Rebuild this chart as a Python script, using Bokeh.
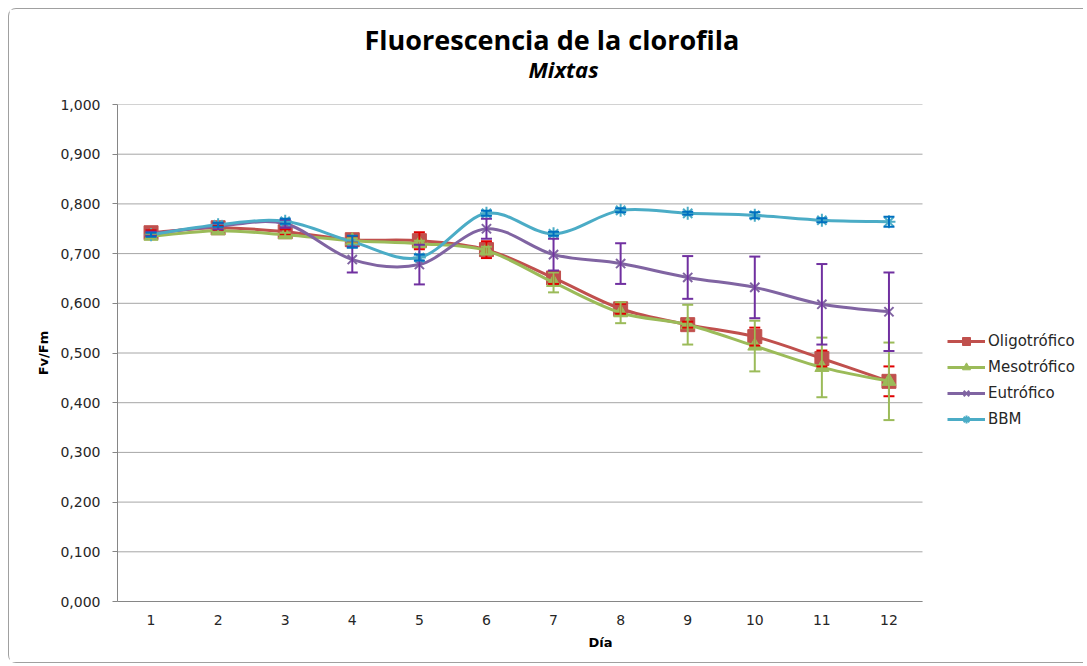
from bokeh.plotting import figure
from bokeh.models import (ColumnDataSource, Range1d, FixedTicker, CustomJSTickFormatter,
                          Whisker, TeeHead, Legend, LegendItem, Title)
from bokeh.embed import file_html
from bokeh.resources import INLINE

days = [1, 2, 3, 4, 5, 6, 7, 8, 9, 10, 11, 12]
series_names = ["Oligotrófico", "Mesotrófico", "Eutrófico", "BBM"]
oligo = [0.742, 0.752, 0.744, 0.728, 0.726, 0.708, 0.651, 0.589, 0.557, 0.533, 0.489, 0.443]
meso = [0.735, 0.746, 0.738, 0.726, 0.720, 0.706, 0.642, 0.581, 0.557, 0.514, 0.471, 0.443]
eut = [0.740, 0.755, 0.760, 0.688, 0.678, 0.750, 0.698, 0.680, 0.652, 0.632, 0.598, 0.583]
bbm = [0.738, 0.758, 0.765, 0.724, 0.692, 0.781, 0.740, 0.787, 0.781, 0.777, 0.767, 0.764]
oligo_err = [0.005, 0.004, 0.005, 0.006, 0.017, 0.017, 0.012, 0.010, 0.006, 0.018, 0.016, 0.030]
meso_err = [0.004, 0.004, 0.004, 0.005, 0.006, 0.008, 0.020, 0.021, 0.040, 0.051, 0.060, 0.078]
eut_err = [0.004, 0.006, 0.008, 0.026, 0.040, 0.020, 0.032, 0.041, 0.043, 0.062, 0.081, 0.079]
bbm_err = [0.004, 0.004, 0.005, 0.012, 0.006, 0.005, 0.004, 0.004, 0.003, 0.006, 0.004, 0.010]
y_ticks = [0.0, 0.1, 0.2, 0.3, 0.4, 0.5, 0.6, 0.7, 0.8, 0.9, 1.0]

values = [oligo, meso, eut, bbm]
errors = [oligo_err, meso_err, eut_err, bbm_err]
line_colors = ["#C0504D", "#9BBB59", "#8064A2", "#4BACC6"]
err_colors = ["#E00000", "#9BBB59", "#7030A0", "#0070C0"]
markers = ["square", "triangle", "x", "asterisk"]
msizes = [14, 14, 13, 13]

# layout: the category area is 805 px wide, the frame continues to the right for the legend
CAT_W = 805
FRAME_W = 966
x_lo = days[0] - 0.5
x_hi = x_lo + len(days) * FRAME_W / CAT_W

p = figure(frame_width=FRAME_W, frame_height=497, output_backend="svg", toolbar_location=None,
           x_range=Range1d(x_lo, x_hi), y_range=Range1d(0, 1.0),
           min_border_left=108, min_border_right=0, min_border_top=95, min_border_bottom=61)
p.styles = {"margin-left": "8px", "margin-top": "8px",
            "border-left": "1px solid #a0a0a0", "border-top": "1px solid #a0a0a0",
            "border-bottom": "1px solid #a0a0a0",
            "border-top-left-radius": "8px", "border-bottom-left-radius": "8px"}
p.outline_line_color = None

p.title.text = "Fluorescencia de la clorofila"
p.title.align = "left"
p.title.text_font = "Open Sans"
p.title.text_font_style = "bold"
p.title.text_font_size = "27px"
p.title.text_color = "#000000"
p.title.offset = 247
p.title.standoff = -54
p.add_layout(Title(text="Mixtas", align="left", offset=411, standoff=42,
                   text_font="Open Sans", text_font_style="bold italic",
                   text_font_size="22px", text_color="#000000"), "above")

# axes
p.xaxis.ticker = FixedTicker(ticks=days)
p.xaxis.bounds = (x_lo, days[-1] + 0.5)
p.yaxis.ticker = FixedTicker(ticks=y_ticks)
p.yaxis.formatter = CustomJSTickFormatter(code="return tick.toFixed(3).replace('.', ',');")
for ax in (p.xaxis, p.yaxis):
    ax.axis_line_color = "#868686"
    ax.major_tick_line_color = "#868686"
    ax.minor_tick_line_color = None
    ax.major_label_text_font = "DejaVu Sans"
    ax.major_label_text_font_size = "14px"
    ax.major_label_text_color = "#262626"
    ax.axis_label_text_font = "DejaVu Sans"
    ax.axis_label_text_font_style = "bold"
    ax.axis_label_text_font_size = "13px"
    ax.axis_label_text_color = "#000000"
p.xaxis.axis_label = "Día"
p.yaxis.axis_label = "Fv/Fm"
p.xaxis.major_tick_in = 0
p.xaxis.major_tick_out = 0
p.yaxis.major_tick_in = 0
p.yaxis.major_tick_out = 5
p.yaxis.major_label_standoff = 12
p.xaxis.major_label_standoff = 13
p.yaxis.axis_label_standoff = 6
p.xaxis.axis_label_standoff = 7
p.xgrid.grid_line_color = None
p.ygrid.grid_line_color = None

# horizontal gridlines limited to the category area
p.segment(x0=[x_lo] * len(y_ticks), x1=[days[-1] + 0.5] * len(y_ticks),
          y0=y_ticks, y1=y_ticks, line_color="#a6a6a6", line_width=1, level="underlay")


def smooth_segments(xs, ys):
    n = len(xs)
    d = dict(x0=[], y0=[], x1=[], y1=[], cx0=[], cy0=[], cx1=[], cy1=[])
    for i in range(n - 1):
        im = max(i - 1, 0)
        ip2 = min(i + 2, n - 1)
        d["x0"].append(xs[i]); d["y0"].append(ys[i])
        d["x1"].append(xs[i + 1]); d["y1"].append(ys[i + 1])
        d["cx0"].append(xs[i] + (xs[i + 1] - xs[im]) / 6)
        d["cy0"].append(ys[i] + (ys[i + 1] - ys[im]) / 6)
        d["cx1"].append(xs[i + 1] - (xs[ip2] - xs[i]) / 6)
        d["cy1"].append(ys[i + 1] - (ys[ip2] - ys[i]) / 6)
    return ColumnDataSource(d)


items = []
for name, vals, errs, lc, ec, mk, ms in zip(series_names, values, errors, line_colors,
                                            err_colors, markers, msizes):
    p.bezier(x0="x0", y0="y0", x1="x1", y1="y1", cx0="cx0", cy0="cy0", cx1="cx1", cy1="cy1",
             source=smooth_segments(days, vals), line_color=lc, line_width=3)
    src = ColumnDataSource(dict(x=days, y=vals,
                                lo=[v - e for v, e in zip(vals, errs)],
                                hi=[v + e for v, e in zip(vals, errs)]))
    w = Whisker(source=src, base="x", lower="lo", upper="hi", dimension="height",
                line_color=ec, line_width=2, level="glyph",
                upper_head=TeeHead(size=11, line_color=ec, line_width=2),
                lower_head=TeeHead(size=11, line_color=ec, line_width=2))
    p.add_layout(w)
    leg_line = p.line(x=[float("nan")], y=[float("nan")], line_color=lc, line_width=3)
    if mk in ("x", "asterisk"):
        sc = p.scatter(x="x", y="y", source=src, marker=mk, size=ms, line_color=lc,
                       line_width=2)
    else:
        sc = p.scatter(x="x", y="y", source=src, marker=mk, size=ms, fill_color=lc,
                       line_color=lc, line_width=1)
    items.append(LegendItem(label=name, renderers=[leg_line, sc]))

legend = Legend(items=items, location=(830, 172), orientation="vertical",
                label_text_font="DejaVu Sans", label_text_font_size="15px",
                label_text_color="#262626", glyph_width=38, glyph_height=20,
                label_height=20, spacing=6, padding=2, margin=0,
                label_standoff=3, border_line_color=None, background_fill_alpha=0)
p.add_layout(legend)

open("out.html", "w").write(file_html(p, INLINE))
